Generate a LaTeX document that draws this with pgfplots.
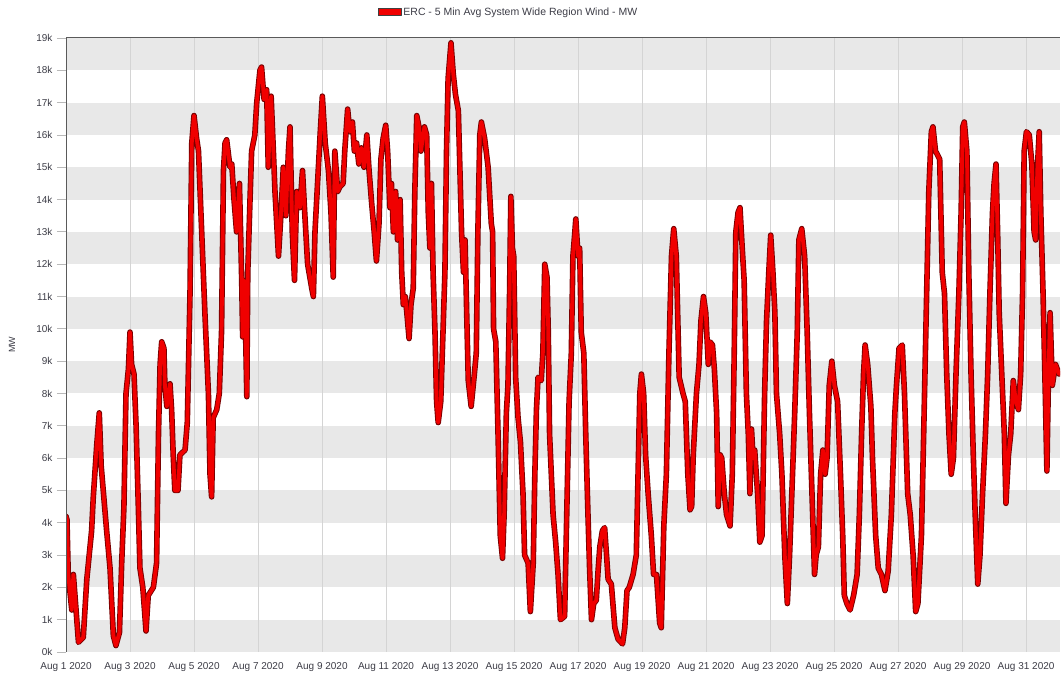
\documentclass[border=0pt]{standalone}
\usepackage{pgfplots}
\usepackage{pgfplotstable}
\pgfplotsset{compat=1.18}
\usepackage{fontspec}
\setmainfont{Liberation Sans}
\definecolor{band}{RGB}{232,232,232}
\definecolor{gridc}{RGB}{212,212,212}
\definecolor{axisc}{RGB}{90,90,90}
\definecolor{txt}{RGB}{60,60,70}
\definecolor{lred}{RGB}{240,0,0}
\definecolor{dred}{RGB}{120,0,0}

\pgfplotstableread{
d mw
0.00 4200
0.03 4100
0.07 2400
0.18 1300
0.23 2400
0.28 1750
0.39 300
0.54 450
0.65 2250
0.80 3750
0.85 4750
0.96 6400
1.04 7400
1.10 5750
1.27 3750
1.375 2600
1.48 500
1.56 200
1.67 600
1.74 2750
1.81 4500
1.875 8000
1.95 8750
2.00 9900
2.05 8900
2.125 8600
2.19 7000
2.26 4500
2.31 2600
2.40 2000
2.50 650
2.57 1750
2.73 2000
2.83 2750
2.89 6750
2.94 8900
2.99 9600
3.06 9400
3.09 8250
3.15 7600
3.25 8300
3.30 7500
3.35 6100
3.40 5000
3.50 5000
3.56 6100
3.72 6250
3.79 7100
3.875 11100
3.93 15750
4.00 16600
4.08 15900
4.14 15500
4.24 13000
4.34 10500
4.45 8000
4.50 5500
4.55 4800
4.60 7250
4.71 7500
4.79 8000
4.86 9900
4.92 14900
4.97 15750
5.02 15850
5.125 15000
5.18 15100
5.25 14000
5.33 13000
5.42 14500
5.49 11500
5.52 9750
5.56 11500
5.60 10500
5.65 7900
5.68 11750
5.75 14000
5.80 15500
5.90 16000
5.96 17000
6.06 18000
6.11 18100
6.19 17100
6.27 17400
6.32 15000
6.41 17200
6.48 15500
6.53 14250
6.64 12250
6.72 13600
6.79 15000
6.87 13500
6.95 15500
7.00 16250
7.07 13000
7.14 11500
7.21 14250
7.31 13750
7.39 14900
7.47 13400
7.55 12000
7.68 11250
7.73 11000
7.78 13000
7.86 14500
7.94 16000
8.01 17200
8.10 15750
8.20 14900
8.28 13600
8.35 11600
8.40 15500
8.49 14250
8.56 14400
8.66 14500
8.71 15500
8.80 16800
8.87 16100
8.95 16400
9.01 15500
9.08 15750
9.15 15100
9.23 15600
9.31 15000
9.40 16000
9.47 14900
9.55 13900
9.63 13000
9.70 12100
9.78 13250
9.84 15250
9.91 15900
9.99 16300
10.05 15500
10.12 13750
10.17 14500
10.23 13000
10.30 14250
10.36 12750
10.44 14000
10.49 11750
10.54 10750
10.60 11000
10.65 10500
10.72 9700
10.78 10750
10.85 11250
10.90 14250
10.96 16600
11.03 16250
11.09 15500
11.20 16250
11.27 16000
11.32 13600
11.37 12500
11.42 14500
11.47 11750
11.53 9900
11.58 7750
11.63 7100
11.71 7750
11.78 9900
11.84 11750
11.89 15500
11.94 17750
12.03 18850
12.10 17900
12.17 17250
12.26 16750
12.36 13000
12.42 11750
12.47 12750
12.52 10500
12.57 8400
12.66 7600
12.76 8600
12.82 9250
12.87 13000
12.93 16000
12.98 16400
13.08 15900
13.19 15000
13.29 13250
13.33 13000
13.36 10000
13.43 9600
13.50 6750
13.57 3600
13.64 2900
13.69 4250
13.76 7400
13.81 8250
13.86 11100
13.90 14100
13.95 12500
13.99 12250
14.05 8500
14.125 7250
14.20 6500
14.28 4900
14.33 3000
14.44 2750
14.51 1250
14.60 2750
14.65 5500
14.70 7500
14.75 8500
14.85 8400
14.90 9250
14.96 12000
15.03 11600
15.07 9900
15.11 6750
15.22 4250
15.30 3400
15.375 2400
15.45 1000
15.58 1100
15.66 4900
15.72 7750
15.79 9250
15.84 12250
15.90 13000
15.93 13400
16.00 12250
16.05 12500
16.10 9900
16.18 9250
16.24 6750
16.31 4250
16.36 2600
16.42 1000
16.49 1500
16.57 1600
16.625 2500
16.68 3250
16.76 3750
16.83 3850
16.89 3000
16.94 2250
17.04 2100
17.15 750
17.25 400
17.39 250
17.46 750
17.53 1900
17.60 2000
17.72 2400
17.82 3000
17.875 5500
17.93 8000
17.98 8600
18.05 8000
18.11 6100
18.19 4900
18.29 3600
18.36 2400
18.45 2400
18.55 900
18.60 750
18.68 3900
18.76 5500
18.84 9250
18.92 12250
18.99 13100
19.07 12250
19.16 8500
19.28 8000
19.35 7750
19.43 5500
19.50 4400
19.55 4500
19.60 6100
19.70 8000
19.78 8900
19.84 10250
19.92 11000
19.99 10500
20.07 8900
20.12 9600
20.20 9500
20.26 8750
20.33 7400
20.38 4500
20.44 6100
20.49 6000
20.57 4900
20.64 4250
20.75 3900
20.82 5500
20.88 9250
20.93 13000
21.00 13600
21.06 13750
21.13 12500
21.19 11500
21.26 8000
21.32 6750
21.37 4900
21.42 6900
21.47 6000
21.52 6250
21.61 4900
21.68 3400
21.75 3600
21.83 8000
21.89 10250
21.96 11750
22.02 12900
22.09 11750
22.15 10500
22.20 8000
22.30 6750
22.37 5500
22.46 3000
22.54 1500
22.61 3000
22.68 4900
22.77 7400
22.85 9900
22.90 12750
22.99 13100
23.08 12250
23.16 9900
23.23 7400
23.31 4900
23.39 2400
23.44 3000
23.51 3250
23.58 5500
23.65 6250
23.72 5500
23.78 6000
23.85 8250
23.93 9000
24.01 8250
24.11 7750
24.20 5500
24.27 3600
24.32 1750
24.40 1500
24.50 1300
24.61 1750
24.72 2400
24.79 4250
24.86 6750
24.92 8600
24.97 9500
25.05 8900
25.15 7600
25.20 6000
25.30 3600
25.38 2600
25.48 2400
25.59 1900
25.69 2500
25.79 4250
25.90 7400
25.95 8250
26.03 9400
26.13 9500
26.20 8000
26.30 4900
26.38 4250
26.47 3000
26.55 1250
26.62 1500
26.73 3600
26.80 6750
26.88 10500
26.96 14250
27.04 16100
27.09 16250
27.17 15500
27.30 15250
27.38 11750
27.45 11100
27.52 8600
27.59 6750
27.66 5500
27.73 6000
27.81 8600
27.90 11100
27.97 13600
28.02 16250
28.07 16400
28.15 15500
28.21 11750
28.28 8600
28.35 6100
28.41 4250
28.49 2100
28.56 3000
28.64 4900
28.73 6750
28.80 8600
28.87 11100
28.95 13600
29.00 14500
29.06 15100
29.11 13000
29.16 10500
29.24 8600
29.32 6750
29.37 4600
29.45 6100
29.52 6750
29.60 8400
29.68 7750
29.76 7500
29.83 8600
29.89 11100
29.94 15500
30.01 16100
30.10 16000
30.18 15100
30.25 13000
30.30 12750
30.35 14900
30.41 16100
30.46 13600
30.53 11100
30.60 8000
30.65 5600
30.70 8600
30.75 10500
30.82 8250
30.92 8900
31.03 8600
}\wind

\pgfplotsset{set layers}

\begin{document}
\begin{tikzpicture}
\begin{axis}[
  at={(66bp,22bp)}, anchor=south west,
  scale only axis,
  width=994bp, height=614bp,
  xmin=0, xmax=31.06,
  ymin=0, ymax=19000,
  scaled y ticks=false,
  xtick={0,2,...,30},
  xticklabels={Aug 1 2020,Aug 3 2020,Aug 5 2020,Aug 7 2020,Aug 9 2020,Aug 11 2020,Aug 13 2020,Aug 15 2020,Aug 17 2020,Aug 19 2020,Aug 21 2020,Aug 23 2020,Aug 25 2020,Aug 27 2020,Aug 29 2020,Aug 31 2020},
  ytick={0,1000,...,19000},
  yticklabels={0k,1k,2k,3k,4k,5k,6k,7k,8k,9k,10k,11k,12k,13k,14k,15k,16k,17k,18k,19k},
  ytick pos=left,
  /pgf/number format/assume math mode=true,
  tick label style={font=\fontsize{10bp}{12bp}\selectfont, text=txt},
  xticklabel style={yshift=2bp},
  yticklabel style={xshift=-1bp},
  xmajorgrids,
  major grid style={draw=gridc, line width=0.8bp},
  xtick style={draw=none},
  ytick style={draw=gray!55, line width=0.8bp},
  tick align=outside,
  major tick length=9bp,
  axis line style={draw=none},
  ylabel={MW},
  ylabel style={font=\fontsize{9bp}{11bp}\selectfont, text=txt, at={(axis description cs:0,0.5)}, anchor=center, yshift=54bp},
  legend style={at={(axis description cs:0.3135,1.042)}, anchor=west, draw=none, fill=none,
    font=\fontsize{10.5bp}{12bp}\selectfont, text=txt, inner sep=0pt,
    legend cell align=left},
  legend image code/.code={\draw[fill=lred, draw=black!75, line width=0.6bp] (0bp,-3.5bp) rectangle (23bp,4bp);},
]
\begin{pgfonlayer}{axis background}
\pgfplotsinvokeforeach{0,2,...,18}{
  \fill[band] (rel axis cs:0,{#1/19}) rectangle (rel axis cs:1,{(#1+1)/19});
}
\end{pgfonlayer}
\addplot[draw=dred, line width=5.6bp, line join=round, line cap=round, forget plot] table[x=d, y=mw] {\wind};
\addplot[draw=lred, line width=3.8bp, line join=round, line cap=round] table[x=d, y=mw] {\wind};
\addlegendentry{ERC - 5 Min Avg System Wide Region Wind - MW}
\draw[axisc, line width=1.4bp] (rel axis cs:0,0) -- (rel axis cs:0,1);
\draw[axisc, line width=1bp] (rel axis cs:0,1) -- (rel axis cs:1,1);
\end{axis}
\pgfresetboundingbox
\path[use as bounding box] (0,0) rectangle (1062bp,674bp);
\end{tikzpicture}
\end{document}
